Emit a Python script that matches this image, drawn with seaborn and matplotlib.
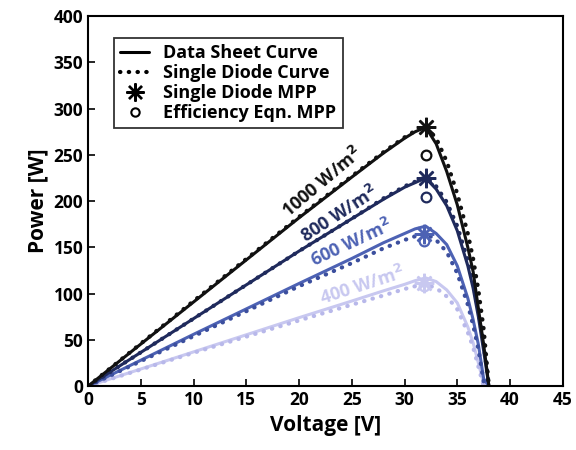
import numpy as np
import pandas as pd
import matplotlib
matplotlib.use("Agg")
import matplotlib.pyplot as plt
import seaborn as sns
from matplotlib.lines import Line2D

# Voltage grid
volts = [0, 10, 20, 25, 28, 30, 31, 32, 33, 34, 35, 36, 36.5, 37, 37.5, 38]

# Power curves [W]
ds_1000 = [0, 91, 182, 226, 252, 268, 275, 280, 262, 232, 196, 150, 124, 84, 45, 0]
sd_1000 = [0, 92, 183, 227, 253, 269, 276, 281, 268, 243, 208, 165, 138, 104, 62, 0]
ds_800 = [0, 73, 146, 181, 202, 215, 220, 225, 213, 195, 168, 130, 106, 75, 38, 0]
sd_800 = [0, 73, 146, 181, 203, 216, 221, 226, 216, 199, 173, 136, 112, 82, 45, 0]
ds_600 = [0, 56, 111, 138, 155, 165, 170, 173, 165, 153, 130, 95, 72, 45, 8, 0]
sd_600 = [0, 54, 108, 133, 149, 158, 162, 165, 158, 145, 122, 88, 66, 40, 5, 0]
ds_400 = [0, 37, 74, 92, 103, 110, 114, 117, 113, 104, 90, 64, 47, 25, 3, 0]
sd_400 = [0, 36, 71, 88, 98, 105, 108, 110, 106, 97, 83, 58, 42, 21, 0, 0]

irradiance = ["1000", "800", "600", "400"]
mpp_v = [32, 32, 31.8, 31.8]
sd_mpp = [280, 225, 165, 112]
eff_mpp = [250, 205, 157, 108]

colors = ["#111111", "#1f2a5c", "#4d62b4", "#c8c8f0"]
dot_colors = ["#111111", "#1f2a5c", "#3c4f9e", "#b8b8ea"]

sns.set_theme(style="ticks")
plt.rcParams["font.family"] = ["Open Sans", "DejaVu Sans"]
plt.rcParams["font.weight"] = "bold"
plt.rcParams["text.color"] = "black"
plt.rcParams["axes.labelcolor"] = "black"
plt.rcParams["xtick.color"] = "black"
plt.rcParams["ytick.color"] = "black"

fig = plt.figure(figsize=(5.76, 4.5), dpi=100)
ax = fig.add_axes([0.153, 0.142, 0.824, 0.822])

ds = [ds_1000, ds_800, ds_600, ds_400]
sd = [sd_1000, sd_800, sd_600, sd_400]

# draw light curves first so dark ones sit on top
for i in reversed(range(4)):
    sns.lineplot(x=volts, y=ds[i], ax=ax, color=colors[i], linewidth=2.2,
                 sort=False, estimator=None)
    sns.lineplot(x=volts, y=sd[i], ax=ax, color=dot_colors[i], linewidth=3.0,
                 linestyle=(0, (0.1, 2.0)), dash_capstyle="round",
                 sort=False, estimator=None)
    ax.plot(mpp_v[i], sd_mpp[i], marker=(8, 2, 0), markersize=14,
            markeredgewidth=1.8, color=colors[i], linestyle="none")
    ax.plot(mpp_v[i], eff_mpp[i], marker="o", markersize=7, markeredgewidth=1.6,
            markerfacecolor="none", markeredgecolor=colors[i], linestyle="none")

# irradiance labels along the curves
labels = [(22.2, 220, 40), (23.8, 186, 33), (25.0, 155, 25), (26.0, 108, 18)]
for (x, y, rot), irr, c in zip(labels, irradiance, colors):
    ax.text(x, y, f"{irr} W/m$^2$", rotation=rot, color=c, fontsize=13,
            fontweight="bold", ha="center", va="center")

ax.set_xlim(0, 45)
ax.set_ylim(0, 400)
ax.set_xticks(range(0, 46, 5))
ax.set_yticks(range(0, 401, 50))
ax.tick_params(direction="in", length=5, width=1.2, labelsize=12.5)
for lab in ax.get_xticklabels() + ax.get_yticklabels():
    lab.set_fontweight("bold")
for sp in ax.spines.values():
    sp.set_linewidth(1.5)
    sp.set_color("black")
ax.set_xlabel("Voltage [V]", fontsize=15, fontweight="bold")
ax.set_ylabel("Power [W]", fontsize=15, fontweight="bold")

handles = [
    Line2D([], [], color="black", linewidth=2.2),
    Line2D([], [], color="black", linewidth=3.0, linestyle=(0, (0.1, 2.0)),
           dash_capstyle="round"),
    Line2D([], [], color="black", marker=(8, 2, 0), markersize=13,
           markeredgewidth=1.7, linestyle="none"),
    Line2D([], [], color="black", marker="o", markersize=6, markeredgewidth=1.5,
           markerfacecolor="none", linestyle="none"),
]
names = ["Data Sheet Curve", "Single Diode Curve", "Single Diode MPP",
         "Efficiency Eqn. MPP"]
leg = ax.legend(handles, names, loc="upper left", bbox_to_anchor=(0.035, 0.965),
                frameon=True, fancybox=False, handlelength=1.6,
                borderpad=0.35, labelspacing=0.1, handletextpad=0.8,
                prop={"weight": "bold", "size": 13})
leg.get_frame().set_edgecolor("black")
leg.get_frame().set_linewidth(1.3)

fig.savefig("out.png", dpi=100)
